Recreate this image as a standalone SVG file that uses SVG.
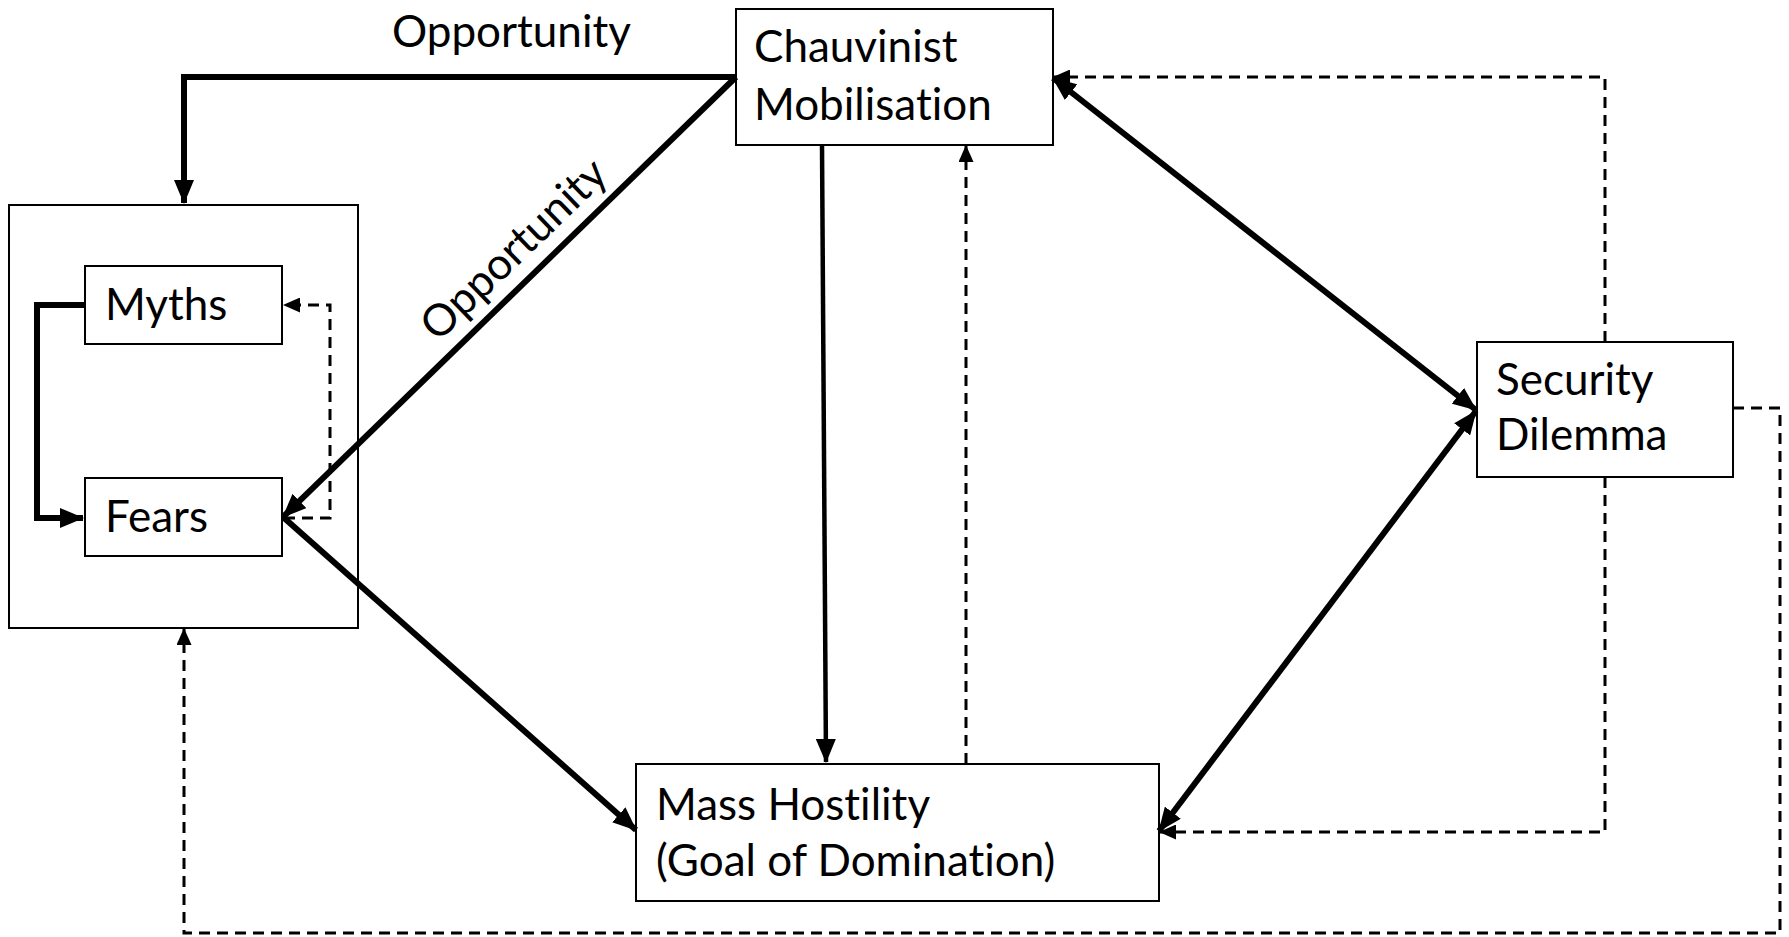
<svg xmlns="http://www.w3.org/2000/svg" width="1789" height="937" viewBox="0 0 1789 937">
<style>
.box{fill:#fff;stroke:#000;stroke-width:2}
.t{font-family:Lato,"Liberation Sans",sans-serif;font-size:44px;fill:#000;font-variant-ligatures:none}
.thick{fill:none;stroke:#000;stroke-width:6}
.mid{fill:none;stroke:#000;stroke-width:4.5}
.dash{fill:none;stroke:#000;stroke-width:3;stroke-dasharray:11 7}
</style>
<defs>
<marker id="ah" markerUnits="userSpaceOnUse" markerWidth="24" markerHeight="20" refX="23" refY="10" orient="auto-start-reverse"><path d="M0,0 L24,10 L0,20 z" fill="#000"/></marker>
<marker id="ad" markerUnits="userSpaceOnUse" markerWidth="17" markerHeight="15" refX="16" refY="7.5" orient="auto"><path d="M0,0 L17,7.5 L0,15 z" fill="#000"/></marker>
</defs>
<rect width="1789" height="937" fill="#fff"/>
<g id="group-box"><rect class="box" x="9" y="205" width="349" height="423"/></g>
<g id="myths"><rect class="box" x="85" y="266" width="197" height="78"/><text class="t" x="105" y="320">Myths</text></g>
<g id="fears"><rect class="box" x="85" y="478" width="197" height="78"/><text class="t" x="105" y="532">Fears</text></g>
<g id="chauvinist"><rect class="box" x="736" y="9" width="317" height="136"/><text class="t" x="754" y="62">Chauvinist</text><text class="t" x="754" y="120">Mobilisation</text></g>
<g id="security"><rect class="box" x="1477" y="342" width="256" height="135"/><text class="t" x="1496" y="395">Security</text><text class="t" x="1496" y="450">Dilemma</text></g>
<g id="mass"><rect class="box" x="636" y="764" width="523" height="137"/><text class="t" x="656" y="820">Mass Hostility</text><text class="t" x="656" y="876">(Goal of Domination)</text></g>
<g id="labels">
<text class="t" x="392" y="47">Opportunity</text>
<text class="t" text-anchor="middle" transform="translate(524,260) rotate(-44)">Opportunity</text>
</g>
<g id="connectors">
<path class="thick" d="M736,77 H184 V203" marker-end="url(#ah)"/>
<path class="thick" d="M736,77 L283,517" marker-end="url(#ah)"/>
<path class="thick" d="M85,305 H37 V518 H83" marker-end="url(#ah)"/>
<path class="dash" d="M284,518 H330 V305 H284" marker-end="url(#ad)"/>
<path class="thick" d="M283,517 L636,830" marker-end="url(#ah)"/>
<path class="mid" d="M822,145 L826,762" marker-end="url(#ah)"/>
<path class="dash" d="M966,764 V146" marker-end="url(#ad)"/>
<path class="thick" d="M1053,78 L1476,410" marker-start="url(#ah)" marker-end="url(#ah)"/>
<path class="thick" d="M1159,831 L1476,411" marker-start="url(#ah)" marker-end="url(#ah)"/>
<path class="dash" d="M1605,342 V77 H1054" marker-end="url(#ad)"/>
<path class="dash" d="M1605,477 V832 H1160" marker-end="url(#ad)"/>
<path class="dash" d="M1733,408 H1780 V933 H184 V629" marker-end="url(#ad)"/>
</g>
</svg>
